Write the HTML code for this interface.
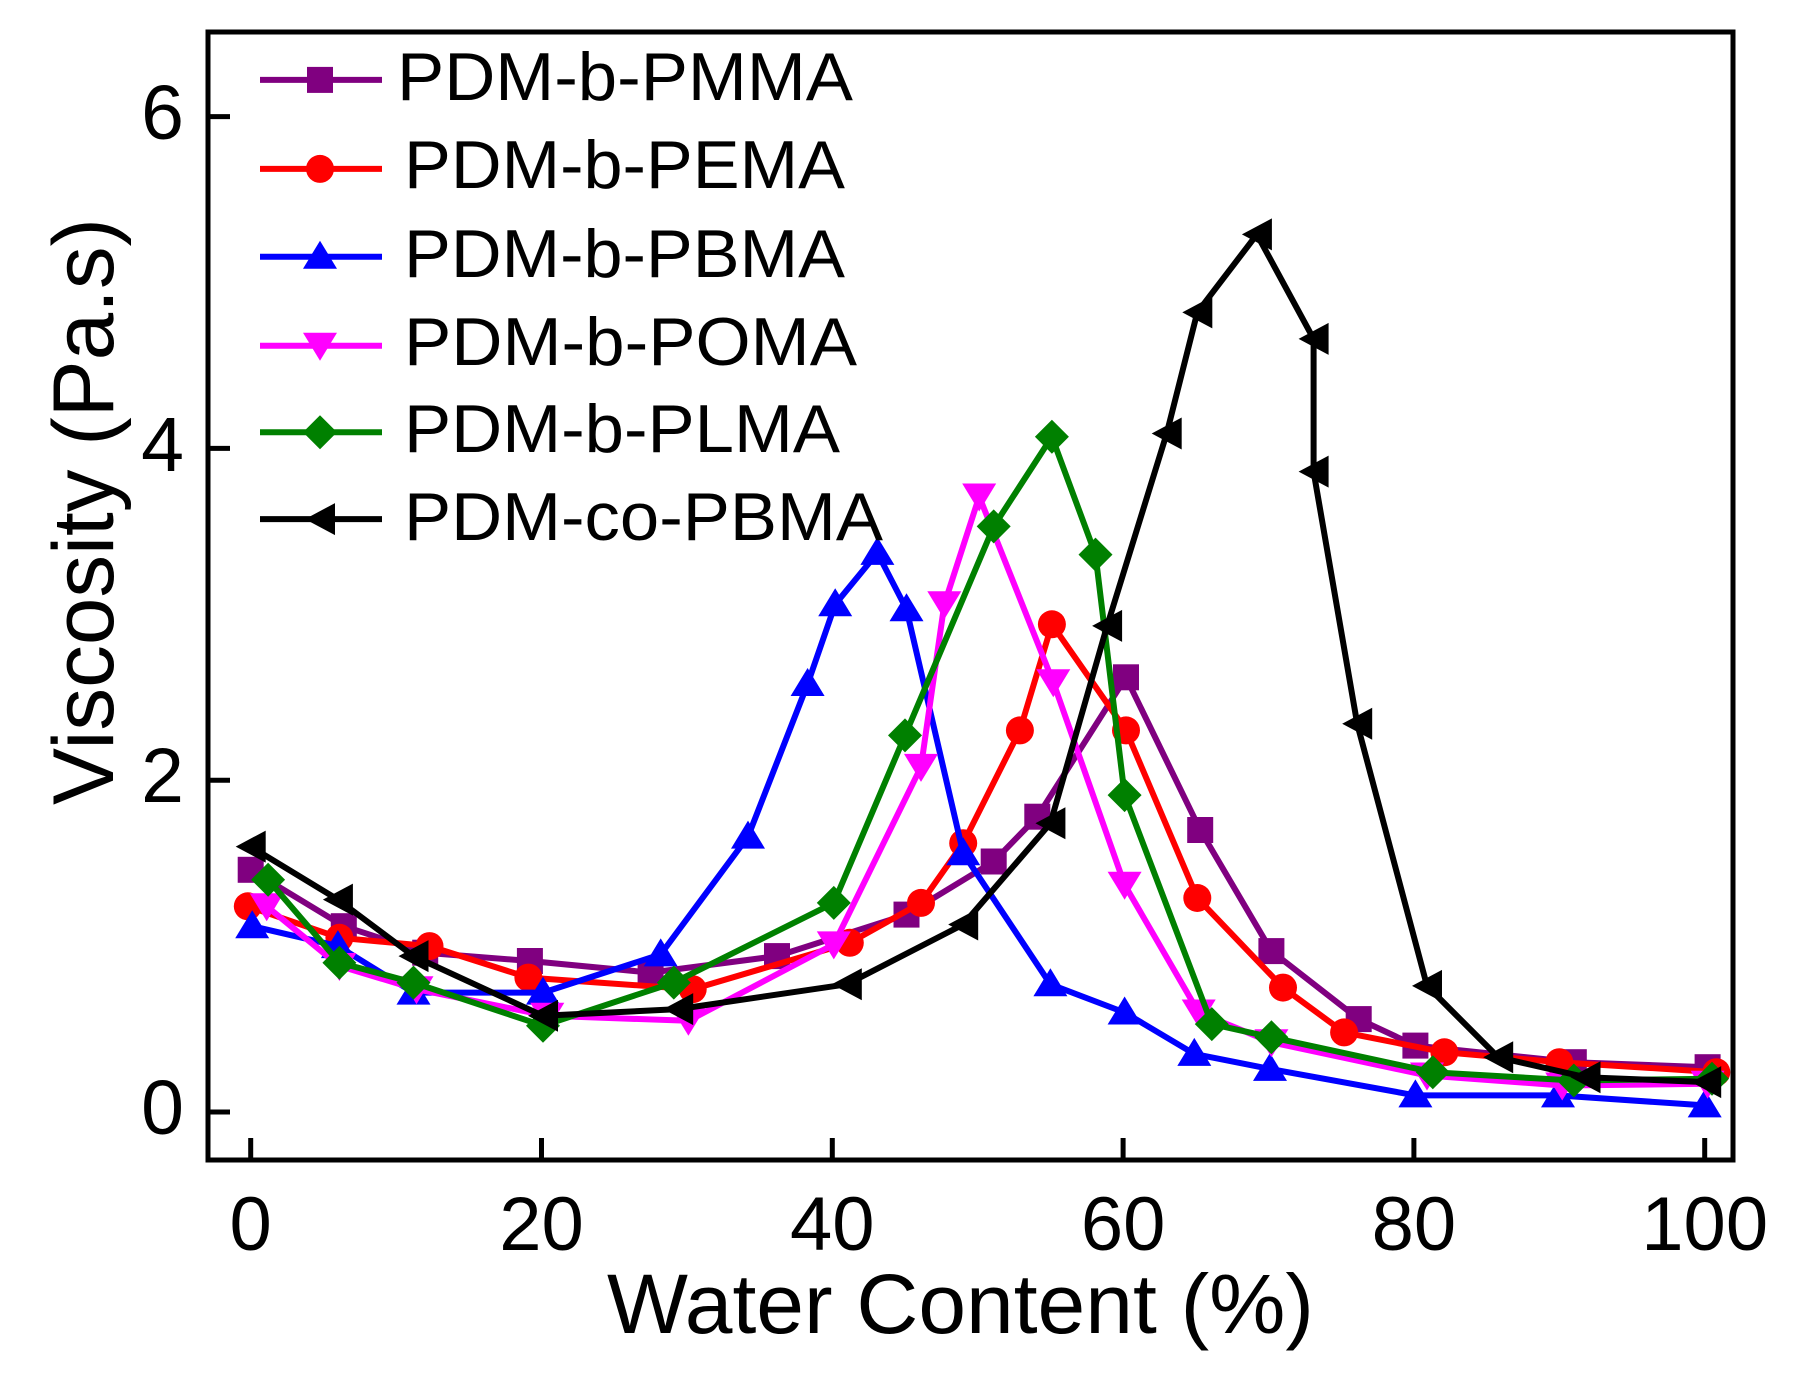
<!DOCTYPE html>
<html>
<head>
<meta charset="utf-8">
<style>
html,body{margin:0;padding:0;background:#fff;}
svg{display:block;}
text{font-family:"Liberation Sans",Arial,sans-serif;fill:#000;}
</style>
</head>
<body>
<svg width="1809" height="1376" viewBox="0 0 1809 1376" xmlns="http://www.w3.org/2000/svg">
<defs>
  <marker id="mSq" markerUnits="userSpaceOnUse" markerWidth="40" markerHeight="40" refX="20" refY="20" overflow="visible">
    <rect x="7" y="7" width="26" height="26" fill="#800080"/>
  </marker>
  <marker id="mCi" markerUnits="userSpaceOnUse" markerWidth="40" markerHeight="40" refX="20" refY="20" overflow="visible">
    <circle cx="20" cy="20" r="14" fill="#ff0000"/>
  </marker>
  <marker id="mUp" markerUnits="userSpaceOnUse" markerWidth="40" markerHeight="40" refX="20" refY="20" overflow="visible">
    <polygon points="20,4 37,32 3,32" fill="#0000ff"/>
  </marker>
  <marker id="mDn" markerUnits="userSpaceOnUse" markerWidth="40" markerHeight="40" refX="20" refY="20" overflow="visible">
    <polygon points="3,7 37,7 20,35" fill="#ff00ff"/>
  </marker>
  <marker id="mDi" markerUnits="userSpaceOnUse" markerWidth="40" markerHeight="40" refX="20" refY="20" overflow="visible">
    <polygon points="20,3 37,20 20,37 3,20" fill="#008000"/>
  </marker>
  <marker id="mLt" markerUnits="userSpaceOnUse" markerWidth="40" markerHeight="40" refX="20" refY="20" overflow="visible">
    <polygon points="5,20 35,4 35,36" fill="#000000"/>
  </marker>
</defs>

<rect x="0" y="0" width="1809" height="1376" fill="#fff"/>

<!-- series -->
<g fill="none" stroke-width="6" stroke-linejoin="round">
  <polyline stroke="#800080" marker-start="url(#mSq)" marker-mid="url(#mSq)" marker-end="url(#mSq)"
    points="250.7,869.8 343.8,926.2 425.2,952.7 529.9,961.0 650.6,972.6 777.0,956.1 906.5,914.6 993.7,861.5 1037.3,816.7 1126.0,677.3 1200.2,830.0 1271.4,951.1 1358.7,1019.1 1415.4,1045.6 1573.8,1062.2 1707.6,1067.2"/>
  <polyline stroke="#ff0000" marker-start="url(#mCi)" marker-mid="url(#mCi)" marker-end="url(#mCi)"
    points="247.8,906.3 339.4,937.8 429.5,946.1 528.4,977.6 692.7,989.2 849.8,942.8 921.0,902.9 963.2,843.2 1019.9,730.4 1051.9,624.3 1126.0,730.4 1197.3,898.0 1283.0,987.6 1344.1,1032.4 1444.4,1052.3 1559.3,1062.2 1716.3,1072.2"/>
  <polyline stroke="#0000ff" marker-start="url(#mUp)" marker-mid="url(#mUp)" marker-end="url(#mUp)"
    points="252.2,926.2 337.9,946.1 413.5,992.6 543.0,992.6 660.7,954.4 748.0,836.6 807.6,684.0 835.2,604.3 877.4,552.9 906.5,609.3 963.2,853.2 1050.4,984.3 1124.6,1012.5 1194.3,1053.9 1270.0,1068.9 1415.4,1095.4 1558.0,1095.4 1704.7,1105.4"/>
  <polyline stroke="#ff00ff" marker-start="url(#mDn)" marker-mid="url(#mDn)" marker-end="url(#mDn)"
    points="266.7,906.3 339.4,966.0 416.5,989.2 547.3,1015.8 688.4,1020.8 833.8,944.4 921.0,766.9 944.3,604.3 979.2,496.5 1053.3,682.3 1124.6,884.7 1198.7,1012.5 1271.4,1042.3 1427.0,1075.5 1562.2,1085.5 1707.6,1083.8"/>
  <polyline stroke="#008000" marker-start="url(#mDi)" marker-mid="url(#mDi)" marker-end="url(#mDi)"
    points="268.1,879.7 339.4,962.7 413.5,982.6 543.0,1025.7 673.8,982.6 833.8,902.9 905.0,735.4 993.7,526.4 1051.9,436.8 1095.5,554.6 1124.6,795.1 1211.8,1024.1 1271.4,1037.3 1432.8,1072.2 1573.8,1080.5 1712.0,1078.8"/>
  <polyline stroke="#000000" marker-start="url(#mLt)" marker-mid="url(#mLt)" marker-end="url(#mLt)"
    points="250.7,846.6 337.9,899.6 413.5,956.1 543.0,1015.8 678.2,1009.1 846.8,984.3 963.2,924.5 1050.4,823.3 1107.1,625.9 1166.7,433.5 1197.3,312.4 1256.9,234.4 1313.6,338.9 1313.6,471.6 1357.2,723.8 1427.0,985.9 1498.2,1057.3 1585.5,1077.2 1706.2,1082.1"/>
</g>

<!-- frame -->
<rect x="208" y="32" width="1525" height="1128" fill="none" stroke="#000" stroke-width="5"/>

<!-- ticks -->
<g stroke="#000" stroke-width="5">
  <line x1="250.7" y1="1160" x2="250.7" y2="1138"/>
  <line x1="541.5" y1="1160" x2="541.5" y2="1138"/>
  <line x1="832.3" y1="1160" x2="832.3" y2="1138"/>
  <line x1="1123.1" y1="1160" x2="1123.1" y2="1138"/>
  <line x1="1413.9" y1="1160" x2="1413.9" y2="1138"/>
  <line x1="1704.7" y1="1160" x2="1704.7" y2="1138"/>
  <line x1="208" y1="1112" x2="230" y2="1112"/>
  <line x1="208" y1="780.2" x2="230" y2="780.2"/>
  <line x1="208" y1="448.4" x2="230" y2="448.4"/>
  <line x1="208" y1="116.6" x2="230" y2="116.6"/>
</g>

<!-- x tick labels -->
<g font-size="76" text-anchor="middle">
  <text x="250.7" y="1250">0</text>
  <text x="541.5" y="1250">20</text>
  <text x="832.3" y="1250">40</text>
  <text x="1123.1" y="1250">60</text>
  <text x="1413.9" y="1250">80</text>
  <text x="1704.7" y="1250">100</text>
</g>

<!-- y tick labels (upright) -->
<g font-size="77" text-anchor="end">
  <text x="184" y="1134">0</text>
  <text x="184" y="802.2">2</text>
  <text x="184" y="471">4</text>
  <text x="184" y="139">6</text>
</g>

<!-- axis titles -->
<text x="607" y="1333" font-size="84" textLength="707" lengthAdjust="spacingAndGlyphs">Water Content (%)</text>
<text transform="translate(113,511.5) rotate(-90)" font-size="86" text-anchor="middle" textLength="587" lengthAdjust="spacingAndGlyphs">Viscosity (Pa.s)</text>

<!-- legend -->
<g fill="none" stroke-width="6">
  <polyline stroke="#800080" points="260,79.9 320,79.9 382,79.9" marker-mid="url(#mSq)"/>
  <polyline stroke="#ff0000" points="260,168.9 320,168.9 382,168.9" marker-mid="url(#mCi)"/>
  <polyline stroke="#0000ff" points="260,256.7 320,256.7 382,256.7" marker-mid="url(#mUp)"/>
  <polyline stroke="#ff00ff" points="260,345.8 320,345.8 382,345.8" marker-mid="url(#mDn)"/>
  <polyline stroke="#008000" points="260,432.2 320,432.2 382,432.2" marker-mid="url(#mDi)"/>
  <polyline stroke="#000000" points="260,519.1 320,519.1 382,519.1" marker-mid="url(#mLt)"/>
</g>
<g font-size="68">
  <text x="397" y="100" textLength="456" lengthAdjust="spacingAndGlyphs">PDM-b-PMMA</text>
  <text x="404" y="188" textLength="441" lengthAdjust="spacingAndGlyphs">PDM-b-PEMA</text>
  <text x="404" y="277" textLength="441" lengthAdjust="spacingAndGlyphs">PDM-b-PBMA</text>
  <text x="404" y="365" textLength="453" lengthAdjust="spacingAndGlyphs">PDM-b-POMA</text>
  <text x="404" y="452" textLength="436" lengthAdjust="spacingAndGlyphs">PDM-b-PLMA</text>
  <text x="404" y="540" textLength="479" lengthAdjust="spacingAndGlyphs">PDM-co-PBMA</text>
</g>
</svg>
</body>
</html>
